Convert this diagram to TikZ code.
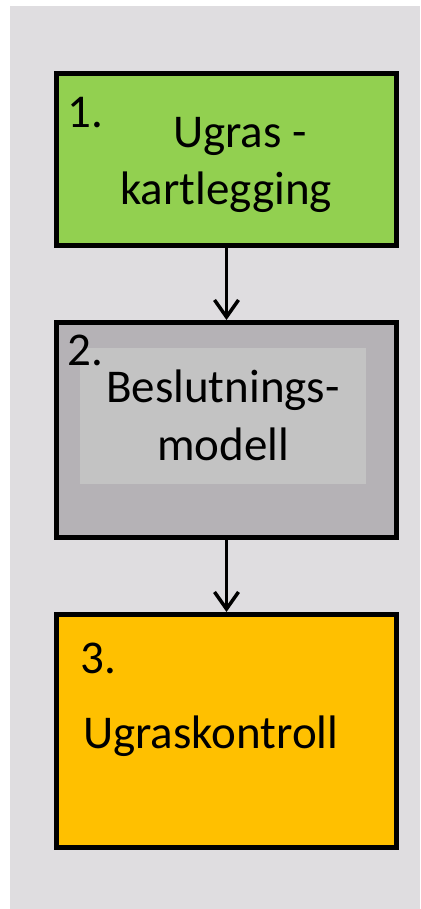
\documentclass[tikz,border=0pt]{standalone}
\usepackage{fontspec}
\setmainfont{Carlito}
\usepackage{xcolor}
\usetikzlibrary{arrows.meta}

\definecolor{panelgray}{HTML}{DFDDE0}
\definecolor{kartgreen}{HTML}{92D050}
\definecolor{beslutgray}{HTML}{B5B2B6}
\definecolor{beslutinner}{HTML}{C3C3C3}
\definecolor{kontrollyellow}{HTML}{FFC000}

\tikzset{
  stepbox/.style={draw=black, line width=5pt, rectangle, inner sep=0pt,
    minimum width=340pt},
  boxtext/.style={font=\fontsize{47}{57}\selectfont, inner sep=0pt, text=black},
  flow/.style={-{Straight Barb[length=17pt,width=24pt,line width=3.5pt]}, line width=3.5pt}
}

\begin{document}
\begin{tikzpicture}[x=1pt,y=-1pt]
  \useasboundingbox (0,0) rectangle (420,909);
  % bakgrunn
  \fill[panelgray] (10,6) rectangle (420,909);

  % boksene
  \node[stepbox, fill=kartgreen, minimum height=172pt] (kart) at (226.5,159.5) {};
  \node[stepbox, fill=beslutgray, minimum height=215pt] (beslut) at (226.5,430) {};
  \node[stepbox, fill=kontrollyellow, minimum height=233pt] (kontroll) at (226.5,731) {};
  \fill[beslutinner] (80,348) rectangle (366,484);

  % tekst
  \node[boxtext, anchor=base west] (kartnum) at (67,128) {1.};
  \node[boxtext, anchor=base] (karttxta) at (240,148) {Ugras -};
  \node[boxtext, anchor=base] (karttxtb) at (226,205) {kartlegging};

  \node[boxtext, anchor=base west] (beslutnum) at (67,365) {2.};
  \node[boxtext, anchor=base] (beslutxta) at (223,402) {Beslutnings-};
  \node[boxtext, anchor=base] (beslutxtb) at (223,460) {modell};

  \node[boxtext, anchor=base west] (kontrollnum) at (80,673) {3.};
  \node[boxtext, anchor=base west] (kontrolltxt) at (83,748) {Ugraskontroll};

  % piler
  \draw[flow] (kart) -- (beslut);
  \draw[flow] (beslut) -- (kontroll);
\end{tikzpicture}
\end{document}
